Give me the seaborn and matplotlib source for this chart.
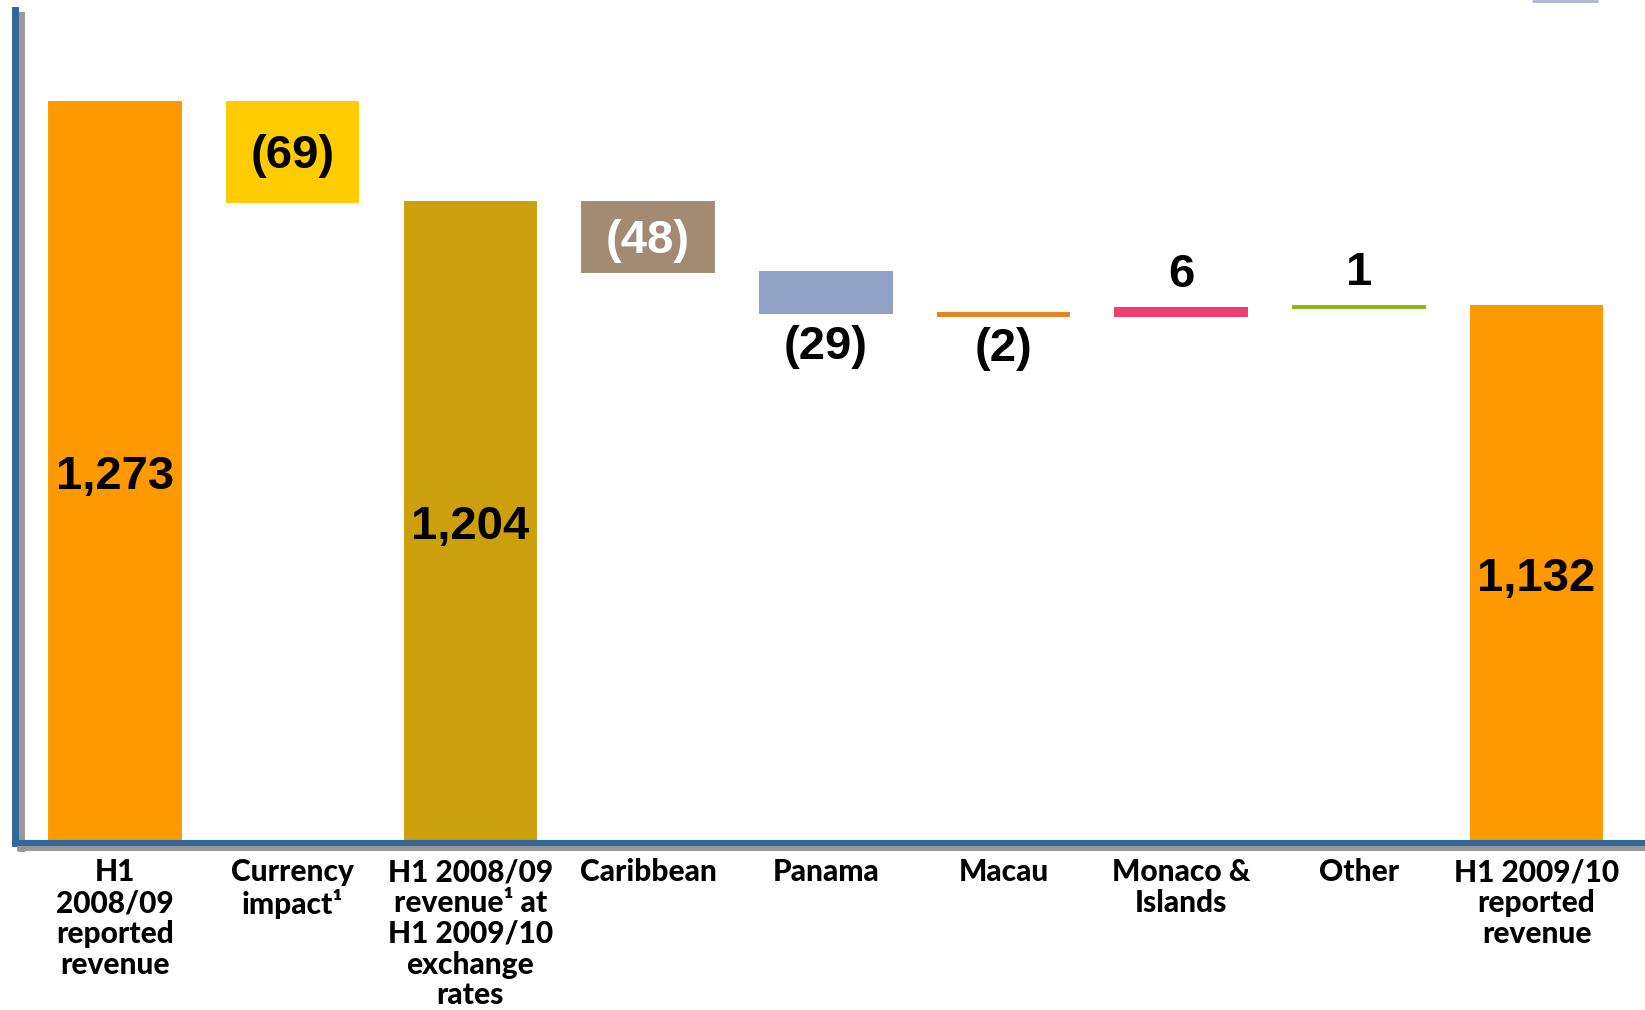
import matplotlib
matplotlib.use("Agg")
import matplotlib.pyplot as plt
import matplotlib.patheffects as pe
from matplotlib.lines import Line2D
import seaborn as sns
import numpy as np

# ---- data ----
categories = [
    "H1\n2008/09\nreported\nrevenue",
    "Currency\nimpact¹",
    "H1 2008/09\nrevenue¹ at\nH1 2009/10\nexchange\nrates",
    "Caribbean",
    "Panama",
    "Macau",
    "Monaco &\nIslands",
    "Other",
    "H1 2009/10\nreported\nrevenue",
]
values = [1273, -69, 1204, -48, -29, -2, 6, 1, 1132]
is_total = [True, False, True, False, False, False, False, False, True]
value_labels = ["1,273", "(69)", "1,204", "(48)", "(29)", "(2)", "6", "1", "1,132"]
bar_colors = ["#FF9900", "#FFCC00", "#CC9F0C", "#A38B73", "#8FA1C4",
              "#E8821E", "#EE3E6E", "#8DB40F", "#FF9900"]
label_colors = ["black", "black", "black", "white", "black", "black", "black", "black", "black"]
# where the value label sits: inside, below, above
label_place = ["in", "in", "in", "in", "below", "below", "above", "above", "in"]

# ---- waterfall geometry from the values ----
bottoms, heights = [], []
running = 0
for v, t in zip(values, is_total):
    if t:
        bottoms.append(0)
        heights.append(v)
        running = v
    else:
        new = running + v
        bottoms.append(min(running, new))
        heights.append(abs(v))
        running = new

sns.set_theme(style="white")
plt.rcParams["font.family"] = ["Liberation Sans", "DejaVu Sans"]

Y_MIN, Y_MAX = 760.5, 1337

fig = plt.figure(figsize=(16.45, 10.10), dpi=100)
ax = fig.add_axes([15.5 / 1645, 167 / 1010, 1 - 15.5 / 1645, (843 - 10) / 1010])

for cat, h, b, c in zip(categories, heights, bottoms, bar_colors):
    sns.barplot(x=[cat], y=[h], order=categories, color=c, bottom=b,
                width=0.74, saturation=1, edgecolor=c, linewidth=1.4, ax=ax)

ax.set_ylim(Y_MIN, Y_MAX)
ax.set_xlim(-0.56, 8.61)
ax.set_yticks([])
ax.set_ylabel("")
ax.set_xlabel("")

# value labels
for i, (h, b, lab, col, place) in enumerate(zip(heights, bottoms, value_labels, label_colors, label_place)):
    lo = max(b, Y_MIN)
    top = b + h
    if place == "in":
        y, va, off = (lo + top) / 2, "center", -3
    elif place == "below":
        y, va, off = b, "top", -8
    else:
        y, va, off = top, "bottom", 8
    ax.annotate(lab, (i, y), xytext=(0, off), textcoords="offset points",
                ha="center", va=va, fontsize=34, fontweight="bold", color=col)

# category labels
ax.set_xticks(range(len(categories)))
ax.set_xticklabels(categories, fontsize=21.5, fontweight=900,
                   family=["Lato", "DejaVu Sans"], linespacing=1.12)
ax.tick_params(axis="x", length=0, pad=11, colors="black")

# axis lines with shadow
for side in ["top", "right"]:
    ax.spines[side].set_visible(False)
shadow = [pe.SimpleLineShadow(offset=(3.6, -3.6), shadow_color="#999999", alpha=1.0), pe.Normal()]
ax.spines["left"].set_color("#336699")
ax.spines["left"].set_linewidth(5.0)
ax.spines["left"].set_path_effects(shadow)
ax.spines["bottom"].set_color("#336699")
ax.spines["bottom"].set_linewidth(4.4)
ax.spines["bottom"].set_path_effects(shadow)

# small cropped element at the top right
fig.add_artist(Line2D([1533 / 1645, 1597 / 1645], [1 - 1 / 1010, 1 - 1 / 1010],
                      transform=fig.transFigure, color="#A9B7D6", linewidth=2))

fig.savefig("out.png", dpi=100, facecolor="white")
